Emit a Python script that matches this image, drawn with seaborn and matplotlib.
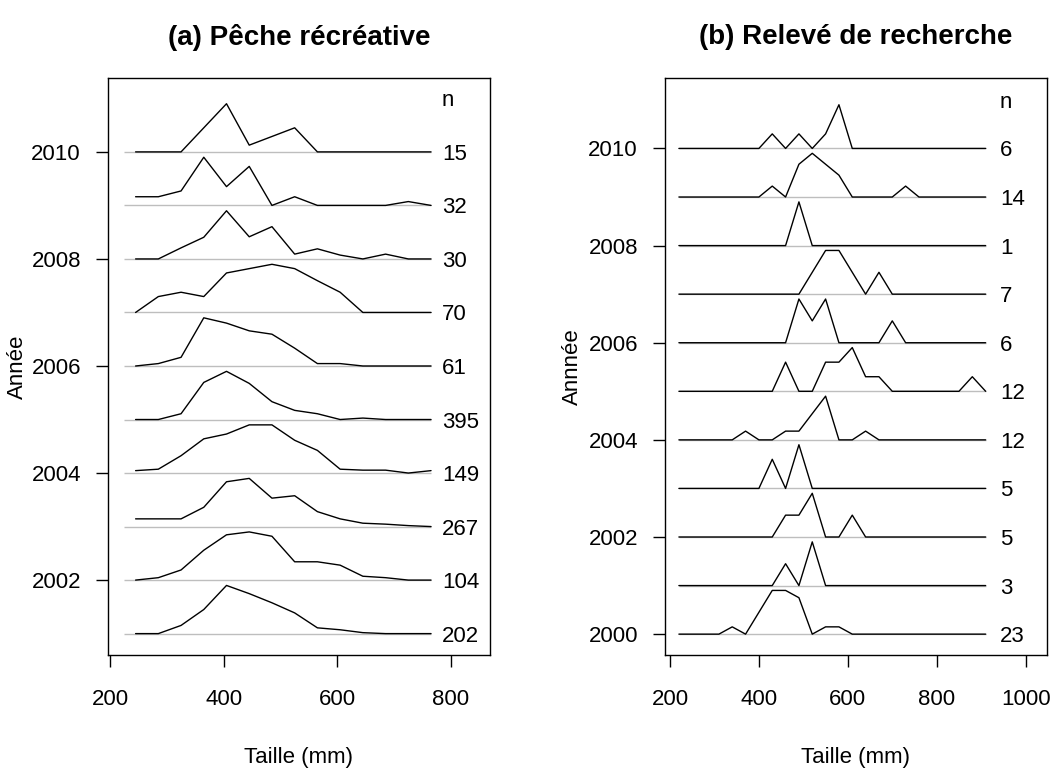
import numpy as np
import pandas as pd
import seaborn as sns
import matplotlib
matplotlib.use("Agg")
import matplotlib.pyplot as plt

# (a) Peche recreative : classes de 40 mm, frequences relatives (max = 1)
tailles_a = [245, 285, 325, 365, 405, 445, 485, 525, 565, 605, 645, 685, 725, 765]
annees_a = [2001, 2002, 2003, 2004, 2005, 2006, 2007, 2008, 2009, 2010]
n_a = [202, 104, 267, 149, 395, 61, 70, 30, 32, 15]
freq_a = [
    [0, 0, 0.17, 0.50, 1, 0.83, 0.64, 0.43, 0.12, 0.08, 0.02, 0, 0, 0],          # 2001
    [0, 0.05, 0.21, 0.62, 0.94, 1, 0.91, 0.38, 0.38, 0.31, 0.08, 0.05, 0, 0],    # 2002
    [0.16, 0.16, 0.16, 0.40, 0.93, 1, 0.59, 0.64, 0.31, 0.16, 0.07, 0.05, 0.02, 0],  # 2003
    [0.05, 0.08, 0.36, 0.71, 0.81, 1, 1, 0.68, 0.47, 0.08, 0.06, 0.06, 0, 0.05],  # 2004
    [0, 0, 0.12, 0.77, 1, 0.75, 0.37, 0.19, 0.12, 0, 0.03, 0, 0, 0],             # 2005
    [0, 0.05, 0.18, 1, 0.89, 0.73, 0.66, 0.37, 0.05, 0.05, 0, 0, 0, 0],          # 2006
    [0, 0.33, 0.42, 0.33, 0.82, 0.91, 1, 0.91, 0.66, 0.42, 0, 0, 0, 0],          # 2007
    [0, 0, 0.23, 0.45, 1, 0.46, 0.67, 0.10, 0.21, 0.08, 0, 0.10, 0, 0],          # 2008
    [0.18, 0.18, 0.30, 1, 0.39, 0.81, 0, 0.18, 0, 0, 0, 0, 0.08, 0],             # 2009
    [0, 0, 0, 0.5, 1, 0.14, 0.32, 0.5, 0, 0, 0, 0, 0, 0],                        # 2010
]

# (b) Releve de recherche : classes de 30 mm, effectifs
tailles_b = [220, 250, 280, 310, 340, 370, 400, 430, 460, 490, 520, 550,
             580, 610, 640, 670, 700, 730, 760, 790, 820, 850, 880, 910]
annees_b = [2000, 2001, 2002, 2003, 2004, 2005, 2006, 2007, 2008, 2009, 2010]
n_b = [23, 3, 5, 5, 12, 12, 6, 7, 1, 14, 6]
comptes_b = [
    {340: 1, 400: 3, 430: 6, 460: 6, 490: 5, 550: 1, 580: 1},       # 2000
    {460: 1, 520: 2},                                               # 2001
    {460: 1, 490: 1, 520: 2, 610: 1},                               # 2002
    {430: 2, 490: 3},                                               # 2003
    {370: 1, 460: 1, 490: 1, 520: 3, 550: 5, 640: 1},               # 2004
    {460: 2, 550: 2, 580: 2, 610: 3, 640: 1, 670: 1, 880: 1},       # 2005
    {490: 2, 520: 1, 550: 2, 700: 1},                               # 2006
    {520: 1, 550: 2, 580: 2, 610: 1, 670: 1},                       # 2007
    {490: 1},                                                       # 2008
    {430: 1, 490: 3, 520: 4, 550: 3, 580: 2, 730: 1},               # 2009
    {430: 1, 490: 1, 550: 1, 580: 3},                               # 2010
]

HAUT = 0.9  # hauteur max d'une courbe, en annees

sns.set_theme(style="ticks")
plt.rcParams["font.family"] = ["Liberation Sans", "DejaVu Sans"]
plt.rcParams["axes.edgecolor"] = "black"
plt.rcParams["axes.linewidth"] = 1.0
plt.rcParams["text.color"] = "black"
plt.rcParams["axes.labelcolor"] = "black"
plt.rcParams["xtick.color"] = "black"
plt.rcParams["ytick.color"] = "black"

# tableaux longs pour seaborn
rows = []
for an, fr in zip(annees_a, freq_a):
    m = max(fr)
    for t, f in zip(tailles_a, fr):
        rows.append({"taille": t, "annee": an, "y": an + HAUT * f / m})
df_a = pd.DataFrame(rows)

rows = []
for an, c in zip(annees_b, comptes_b):
    m = max(c.values())
    for t in tailles_b:
        rows.append({"taille": t, "annee": an, "y": an + HAUT * c.get(t, 0) / m})
df_b = pd.DataFrame(rows)

fig = plt.figure(figsize=(10.53, 7.68), dpi=100)
ax1 = fig.add_axes([0.1026, 0.1471, 0.3627, 0.7513])
ax2 = fig.add_axes([0.6315, 0.1471, 0.3628, 0.7513])

panels = [
    (ax1, df_a, annees_a, n_a, (225, 765), 784, "(a) Pêche récréative", "Année",
     (196.5, 868.7), (2000.6, 2011.38), [200, 400, 600, 800], [2002, 2004, 2006, 2008, 2010]),
    (ax2, df_b, annees_b, n_b, (220, 910), 942, "(b) Relevé de recherche", "Annnée",
     (188.7, 1048), (1999.57, 2011.45), [200, 400, 600, 800, 1000], [2000, 2002, 2004, 2006, 2008, 2010]),
]

for ax, df, annees, ns, (x0, x1), xn, titre, ylab, xl, yl, xt, yt in panels:
    ax.hlines(annees, x0, x1, color="#bebebe", linewidth=1.0, zorder=1)
    sns.lineplot(data=df, x="taille", y="y", units="annee", estimator=None,
                 color="black", linewidth=1.0, ax=ax, legend=False, zorder=2)
    for an, n in zip(annees, ns):
        ax.text(xn, an, str(n), ha="left", va="center_baseline", fontsize=16)
    ax.text(xn, annees[-1] + 1, "n", ha="left", va="center_baseline", fontsize=16)

    ax.set_xlim(*xl)
    ax.set_ylim(*yl)
    ax.set_xticks(xt)
    ax.set_yticks(yt)
    ax.tick_params(axis="both", direction="out", length=8.5, width=1.0,
                   labelsize=16, color="black", labelcolor="black")
    ax.tick_params(axis="x", pad=16)
    ax.tick_params(axis="y", pad=11)
    ax.set_xlabel("Taille (mm)", fontsize=16)
    ax.xaxis.set_label_coords(0.5, -0.177)
    ax.xaxis.label.set_va("center")
    ax.set_ylabel(ylab, fontsize=16)
    ax.yaxis.label.set_va("center")
    ax.set_title(titre, fontsize=20, fontweight="bold", y=1.071, va="center", pad=0)
    for s in ax.spines.values():
        s.set_color("black")
        s.set_linewidth(1.0)

ax1.yaxis.set_label_coords(-0.238, 0.5)
ax2.yaxis.set_label_coords(-0.241, 0.5)

fig.savefig("out.png", dpi=100)
